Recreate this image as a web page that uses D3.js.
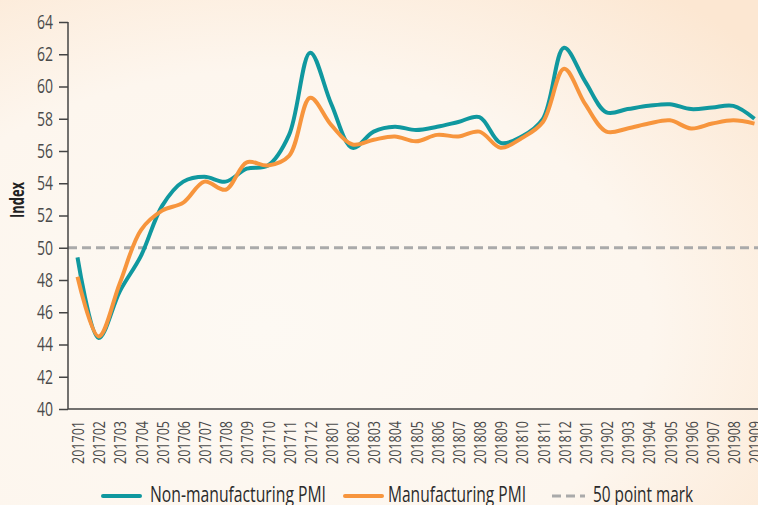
<!DOCTYPE html>
<html lang="en">
<head>
    <meta charset="UTF-8">
    <title>PMI</title>
    <script src="https://d3js.org/d3.v7.min.js"></script>
    <style>
        body { margin: 0; }
        svg { display: block; font-family: "Open Sans", "Noto Sans", sans-serif; }
        .tick-label { fill: #4a4a4a; }
    </style>
</head>
<body>
    <svg width="758" height="505"></svg>
    <script>
        // Months and PMI values
        const months = ["201701","201702","201703","201704","201705","201706","201707","201708","201709","201710","201711","201712",
            "201801","201802","201803","201804","201805","201806","201807","201808","201809","201810","201811","201812",
            "201901","201902","201903","201904","201905","201906","201907","201908","201909"];
        const nonManufacturing = [49.4, 44.4, 47.3, 49.5, 52.6, 54.1, 54.4, 54.1, 54.9, 55.1, 57.0, 62.1,
            58.9, 56.2, 57.2, 57.5, 57.3, 57.5, 57.8, 58.1, 56.5, 56.9, 58.0, 62.4,
            60.3, 58.4, 58.6, 58.8, 58.9, 58.6, 58.7, 58.8, 58.0];
        const manufacturing = [48.2, 44.5, 47.8, 51.1, 52.3, 52.8, 54.1, 53.6, 55.3, 55.1, 55.7, 59.3,
            57.6, 56.4, 56.7, 56.9, 56.6, 57.0, 56.9, 57.2, 56.2, 56.8, 57.8, 61.1,
            58.9, 57.2, 57.4, 57.7, 57.9, 57.4, 57.7, 57.9, 57.7];
        const yTicks = [40, 42, 44, 46, 48, 50, 52, 54, 56, 58, 60, 62, 64];
        const series = [
            { name: "Non-manufacturing PMI", values: nonManufacturing, color: "#10989f" },
            { name: "Manufacturing PMI", values: manufacturing, color: "#f7953d" }
        ];

        const svg = d3.select("svg");
        const W = 758, H = 505;

        // background gradient
        const defs = svg.append("defs");
        const grad = defs.append("radialGradient").attr("id", "bg")
            .attr("cx", "35%").attr("cy", "65%").attr("r", "85%");
        grad.append("stop").attr("offset", "0%").attr("stop-color", "#fdf9f3");
        grad.append("stop").attr("offset", "60%").attr("stop-color", "#fdf6ee");
        grad.append("stop").attr("offset", "100%").attr("stop-color", "#fce7d2");
        svg.append("rect").attr("width", W).attr("height", H).attr("fill", "url(#bg)");

        const x = d3.scalePoint().domain(months).range([77.5, 754.5]);
        const y = d3.scaleLinear().domain([40, 64]).range([409, 22]);
        const axisLeft = 68;

        // 50 point mark
        svg.append("line")
            .attr("x1", axisLeft).attr("x2", W)
            .attr("y1", y(50)).attr("y2", y(50))
            .attr("stroke", "#aaaaaa").attr("stroke-width", 3)
            .attr("stroke-dasharray", "9,5");

        // lines
        const line = d3.line()
            .x((d, i) => x(months[i]))
            .y(d => y(d))
            .curve(d3.curveCatmullRom.alpha(0.5));

        svg.selectAll(".series")
            .data(series)
            .enter()
            .append("path")
            .attr("class", "series")
            .attr("fill", "none")
            .attr("stroke", d => d.color)
            .attr("stroke-width", 4)
            .attr("stroke-linejoin", "round")
            .attr("d", d => line(d.values));

        // y axis
        const yAxis = svg.append("g")
            .attr("transform", `translate(${axisLeft},0)`)
            .call(d3.axisLeft(y).tickValues(yTicks).tickSize(9).tickPadding(6));
        yAxis.select(".domain").attr("stroke", "#444").attr("stroke-width", 1.5).attr("d", `M0,${y(64)}V${y(40)}`);
        yAxis.selectAll(".tick line").attr("stroke", "#444").attr("stroke-width", 1.5);
        yAxis.selectAll(".tick text")
            .attr("class", "tick-label")
            .attr("x", -15)
            .attr("textLength", 16)
            .attr("lengthAdjust", "spacingAndGlyphs")
            .style("font-size", "20px")
            .style("font-family", "'Open Sans', sans-serif");

        // x axis
        const xAxis = svg.append("g")
            .attr("transform", `translate(0,${y(40)})`)
            .call(d3.axisBottom(x).tickSize(0).tickPadding(0));
        xAxis.select(".domain").attr("stroke", "#444").attr("stroke-width", 1.5).attr("d", `M${axisLeft},0H${W}`);
        xAxis.selectAll(".tick text")
            .attr("class", "tick-label")
            .attr("transform", "rotate(-90)")
            .attr("x", -12).attr("y", 0).attr("dy", "0.36em")
            .attr("text-anchor", "end")
            .attr("textLength", 43)
            .attr("lengthAdjust", "spacingAndGlyphs")
            .style("font-size", "17px")
            .style("font-family", "'Open Sans', sans-serif");

        // y title
        svg.append("text")
            .attr("transform", "translate(24,200) rotate(-90)")
            .attr("text-anchor", "middle")
            .attr("font-weight", "bold")
            .attr("font-size", 19)
            .attr("textLength", 36)
            .attr("lengthAdjust", "spacingAndGlyphs")
            .attr("fill", "#222")
            .text("Index");

        // legend
        const legendItems = [
            { name: series[0].name, color: series[0].color, x: 103, dash: null, tx: 47, len: 176 },
            { name: series[1].name, color: series[1].color, x: 345, dash: null, tx: 43, len: 138 },
            { name: "50 point mark", color: "#aaaaaa", x: 552, dash: "9,5", tx: 41, len: 100 }
        ];
        const lg = svg.selectAll(".legend")
            .data(legendItems)
            .enter()
            .append("g")
            .attr("class", "legend")
            .attr("transform", d => `translate(${d.x},496)`);
        lg.append("line")
            .attr("x1", 0).attr("x2", d => d.dash ? 33 : 37)
            .attr("stroke", d => d.color)
            .attr("stroke-width", d => d.dash ? 3 : 4)
            .attr("stroke-linecap", d => d.dash ? "butt" : "round")
            .attr("stroke-dasharray", d => d.dash);
        lg.append("text")
            .attr("x", d => d.tx)
            .attr("y", 6)
            .attr("font-size", 22)
            .attr("textLength", d => d.len)
            .attr("lengthAdjust", "spacingAndGlyphs")
            .attr("fill", "#2a2a2a")
            .text(d => d.name);
    </script>
</body>
</html>
